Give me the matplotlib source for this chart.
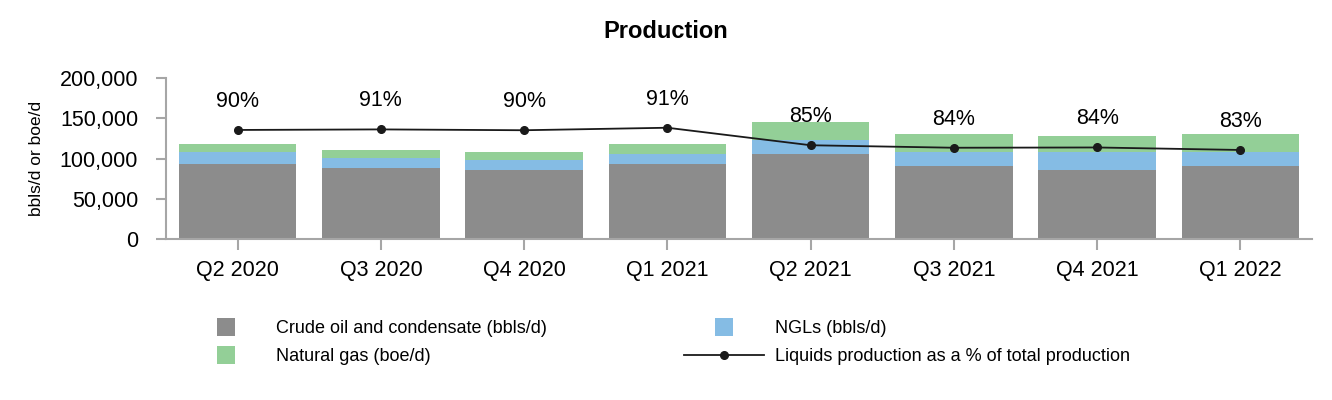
import matplotlib
matplotlib.use('Agg')
import matplotlib.pyplot as plt
from matplotlib.lines import Line2D
from matplotlib.ticker import FuncFormatter

plt.rcParams['font.family'] = ['Liberation Sans', 'DejaVu Sans']

# --- data ---
quarters = ['Q2 2020', 'Q3 2020', 'Q4 2020', 'Q1 2021',
            'Q2 2021', 'Q3 2021', 'Q4 2021', 'Q1 2022']
crude = [93000, 88000, 86000, 93000, 105500, 91000, 86000, 91000]
ngls = [15000, 12500, 12000, 12500, 17500, 17000, 22000, 17000]
gas = [10000, 10000, 10000, 12500, 22500, 22000, 20000, 22000]
liquids_pct = [0.904, 0.906, 0.903, 0.912, 0.849, 0.840, 0.841, 0.832]

GRAY = '#8c8c8c'
BLUE = '#85bce4'
GREEN = '#93cf97'
AXIS = '#a6a6a6'

fig = plt.figure(figsize=(13.32, 4), dpi=100)
ax = fig.add_axes([166 / 1332, 1 - 239 / 400, 1146 / 1332, 161 / 400])

x = list(range(len(quarters)))
width = 0.82
ax.bar(x, crude, width=width, color=GRAY, linewidth=0)
bottom2 = list(crude)
ax.bar(x, ngls, width=width, bottom=bottom2, color=BLUE, linewidth=0)
bottom3 = [c + n for c, n in zip(crude, ngls)]
ax.bar(x, gas, width=width, bottom=bottom3, color=GREEN, linewidth=0)

ax.set_xlim(-0.5, len(quarters) - 0.5)
ax.set_ylim(0, 200000)
ax.set_yticks([0, 50000, 100000, 150000, 200000])
ax.yaxis.set_major_formatter(FuncFormatter(lambda v, p: f'{int(v):,}'))
ax.set_xticks(x)
ax.set_xticklabels(quarters)

for side in ['top', 'right']:
    ax.spines[side].set_visible(False)
for side in ['left', 'bottom']:
    ax.spines[side].set_color(AXIS)
    ax.spines[side].set_linewidth(1.5)
ax.tick_params(axis='y', colors=AXIS, labelcolor='black', labelsize=15.5,
               length=7, width=1.5, pad=13)
ax.tick_params(axis='x', colors=AXIS, labelcolor='black', labelsize=15.5,
               length=8, width=1.5, pad=7)

ax.set_ylabel('bbls/d or boe/d', fontsize=12.5)
ax.yaxis.set_label_coords(-0.1064, 0.5)

# liquids % on a hidden secondary axis
ax2 = ax.twinx()
ax2.set_ylim(0.5116, 1.091)
ax2.plot(x, liquids_pct, color='#1a1a1a', linewidth=1.3, marker='o',
         markersize=5.5, zorder=5)
for xi, p in zip(x, liquids_pct):
    ax2.annotate(f'{p * 100:.0f}%', (xi, p), xytext=(0, 20.5),
                 textcoords='offset points', ha='center', va='center',
                 fontsize=15.5)
ax2.set_yticks([])
for s in ax2.spines.values():
    s.set_visible(False)

fig.suptitle('Production', fontsize=17, fontweight='bold', x=0.5,
             y=1 - 31 / 400, va='center')

handles = [
    Line2D([], [], linestyle='none', marker='s', markersize=13.5,
           markerfacecolor=GRAY, markeredgewidth=0),
    Line2D([], [], linestyle='none', marker='s', markersize=13.5,
           markerfacecolor=GREEN, markeredgewidth=0),
    Line2D([], [], linestyle='none', marker='s', markersize=13.5,
           markerfacecolor=BLUE, markeredgewidth=0),
    Line2D([], [], color='#1a1a1a', linewidth=1.3, marker='o', markersize=5.5),
]
labels = ['Crude oil and condensate (bbls/d)', 'Natural gas (boe/d)',
          'NGLs (bbls/d)', 'Liquids production as a % of total production']
fig.legend(handles, labels, ncol=2, loc='upper left',
           bbox_to_anchor=(186 / 1332, 1 - 320 / 400), frameon=False,
           fontsize=13, handlelength=4.4, handletextpad=0.6,
           columnspacing=7.6, labelspacing=0.62, borderpad=0,
           borderaxespad=0, numpoints=1)

fig.savefig('out.png', dpi=100)
